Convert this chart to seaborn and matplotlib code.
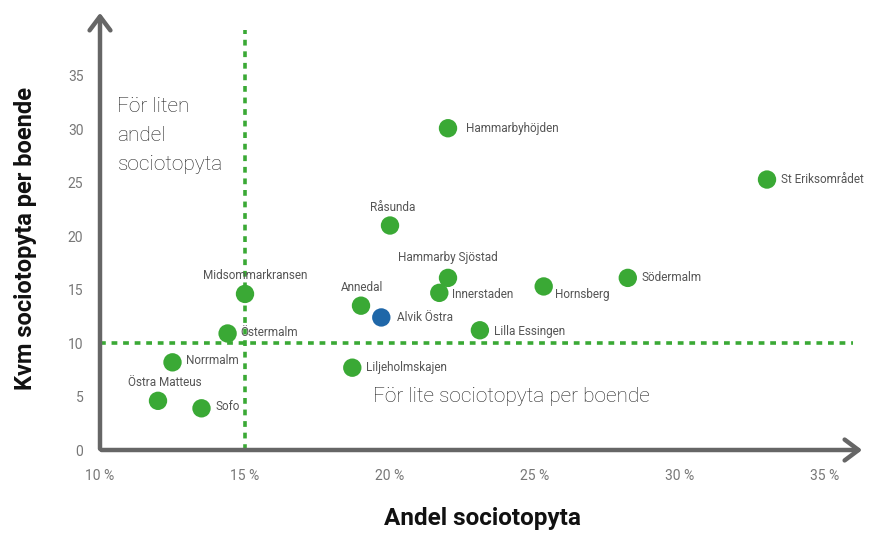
import matplotlib
matplotlib.use('Agg')
import matplotlib.pyplot as plt
import seaborn as sns
import pandas as pd

# Values
areas = ['Hammarbyhöjden', 'St Eriksområdet', 'Råsunda', 'Hammarby Sjöstad', 'Innerstaden',
         'Hornsberg', 'Södermalm', 'Midsommarkransen', 'Annedal', 'Alvik Östra',
         'Lilla Essingen', 'Östermalm', 'Norrmalm', 'Liljeholmskajen', 'Östra Matteus', 'Sofo']
andel = [22.0, 33.0, 20.0, 22.0, 21.7, 25.3, 28.2, 15.0, 19.0, 19.7, 23.1, 14.4, 12.5, 18.7, 12.0, 13.5]
kvm = [30.1, 25.3, 21.0, 16.1, 14.7, 15.3, 16.1, 14.6, 13.5, 12.4, 11.2, 10.9, 8.2, 7.7, 4.6, 3.9]
group = ['övrig'] * len(areas)
group[areas.index('Alvik Östra')] = 'Alvik Östra'

x_ticks = [10, 15, 20, 25, 30, 35]
y_ticks = [0, 5, 10, 15, 20, 25, 30, 35]
x_limit = 15
y_limit = 10

# label placement: offset in points and alignment
label_pos = {
    'Hammarbyhöjden': (13, 0, 'left'), 'St Eriksområdet': (10, 0, 'left'),
    'Råsunda': (2, 13, 'center'), 'Hammarby Sjöstad': (0, 15, 'center'),
    'Innerstaden': (9, -1, 'left'), 'Hornsberg': (8, -6, 'left'),
    'Södermalm': (10, 0, 'left'), 'Midsommarkransen': (7, 13, 'center'),
    'Annedal': (1, 13, 'center'), 'Alvik Östra': (11, 0, 'left'),
    'Lilla Essingen': (10, -1, 'left'), 'Östermalm': (9, 1, 'left'),
    'Norrmalm': (10, 1, 'left'), 'Liljeholmskajen': (10, 0, 'left'),
    'Östra Matteus': (5, 13, 'center'), 'Sofo': (10, 1, 'left'),
}

df = pd.DataFrame({'area': areas, 'andel': andel, 'kvm': kvm, 'group': group})

sns.set_style('white')
plt.rcParams['font.family'] = ['Roboto', 'DejaVu Sans']

green = '#3aa935'
blue = '#1f67a8'
grey = '#666666'

fig = plt.figure(figsize=(8.69, 5.37), dpi=100)
ax = fig.add_axes([100 / 869, 87 / 537, 765 / 869, 440 / 537])
ax.set_xlim(10, 10 + 765 / 29)
ax.set_ylim(0, 440 / 10.69)

# dashed threshold lines
ax.plot([x_limit, x_limit], [0, 39.3], color=green, lw=2.6, ls=(0, (1.6, 1.6)), zorder=1)
ax.plot([10, 35.95], [y_limit, y_limit], color=green, lw=2.6, ls=(0, (1.6, 1.6)), zorder=1)

sns.scatterplot(data=df, x='andel', y='kvm', hue='group', palette={'övrig': green, 'Alvik Östra': blue},
                s=175, edgecolor='none', legend=False, ax=ax, zorder=3, clip_on=False)

for name, xv, yv in zip(areas, andel, kvm):
    dx, dy, ha = label_pos[name]
    ax.annotate(name, (xv, yv), xytext=(dx, dy), textcoords='offset points',
                ha=ha, va='center', fontsize=8.5, color='#555555')

# axes drawn as arrows
ax.annotate('', xy=(10, 440 / 10.69), xytext=(10, -0.15), annotation_clip=False,
            arrowprops=dict(arrowstyle='->,head_length=1.0,head_width=0.75', color=grey, lw=3.2))
ax.annotate('', xy=(10 + 765 / 29, 0), xytext=(9.95, 0), annotation_clip=False,
            arrowprops=dict(arrowstyle='->,head_length=1.0,head_width=0.75', color=grey, lw=3.2))

ax.text(10.6, 33.0, 'För liten\nandel\nsociotopyta', fontsize=15, color='#222222',
        fontweight='light', va='top', ha='left', linespacing=1.65)
ax.text(19.4, 5.0, 'För lite sociotopyta per boende', fontsize=15, color='#222222',
        fontweight='light', va='center', ha='left')

for s in ax.spines.values():
    s.set_visible(False)
ax.set_xticks(x_ticks)
ax.set_xticklabels([f'{t} %' for t in x_ticks])
ax.set_yticks(y_ticks)
ax.tick_params(length=0, labelsize=10, labelcolor='#777777', pad=14)
ax.tick_params(axis='y', pad=12)
ax.set_xlabel('Andel sociotopyta', fontsize=17.5, fontweight='bold', color='#111111')
ax.set_ylabel('Kvm sociotopyta per boende', fontsize=17, fontweight='bold', color='#111111')
ax.yaxis.set_label_coords(-0.082, 0.48)
ax.xaxis.set_label_coords(0.5, -0.13)

fig.savefig('out.png', dpi=100)
